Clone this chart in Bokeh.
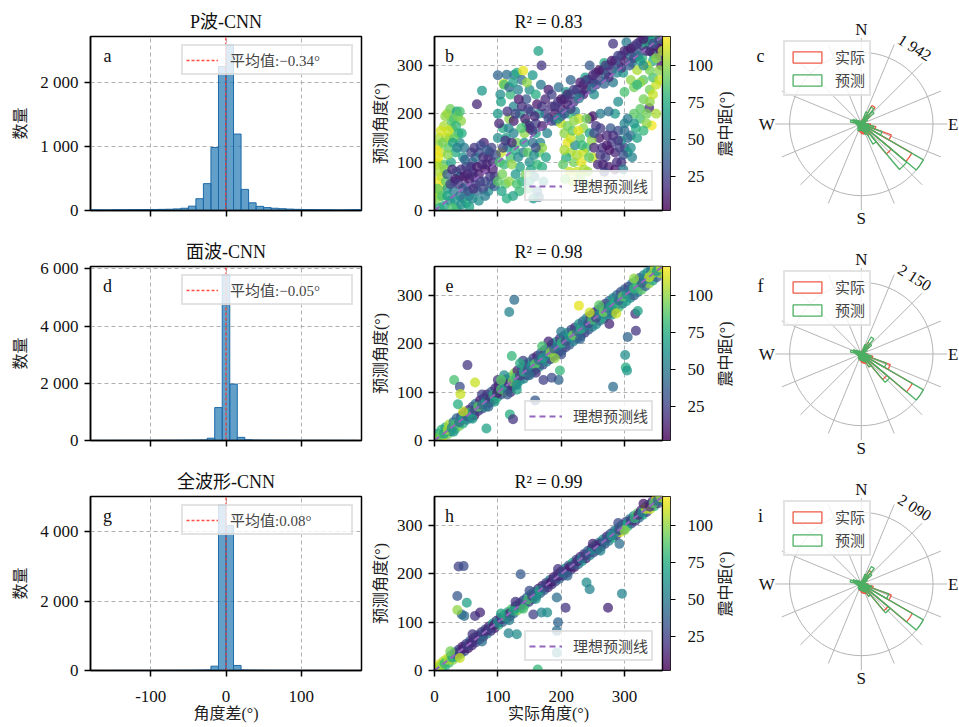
import numpy as np
from bokeh.plotting import figure
from bokeh.layouts import column, row
from bokeh.models import (Range1d, FixedTicker, Label, ColorBar, LinearColorMapper,
                          ColumnDataSource, Legend, LegendItem)
from bokeh.palettes import Viridis256
from bokeh.embed import file_html
from bokeh.resources import INLINE

FONT = "Liberation Serif, Noto Sans CJK SC"

# ---------------- data ----------------
hist_titles = ["P波-CNN", "面波-CNN", "全波形-CNN"]
hist_letters = ["a", "d", "g"]
mean_labels = ["平均值:−0.34°", "平均值:−0.05°", "平均值:0.08°"]
mean_values = [-0.34, -0.05, 0.08]
hist_a_left = list(range(-180, 180, 10))
hist_a_counts = [12, 10, 10, 12, 12, 14, 15, 15, 16, 18, 20, 25, 35, 68, 184, 420, 985, 2250,
                 2590, 1195, 330, 120, 65, 45, 35, 28, 22, 18, 15, 14, 12, 12, 10, 10, 12, 14]
hist_d_left = list(range(-175, 175, 10))
hist_d_counts = [3, 3, 4, 4, 5, 5, 6, 6, 7, 8, 8, 10, 12, 15, 20, 80, 1150, 5790, 1970, 110,
                 25, 15, 12, 10, 8, 8, 7, 6, 6, 5, 5, 4, 4, 3, 3]
hist_g_left = list(range(-180, 180, 10))
hist_g_counts = [3, 2, 2, 3, 3, 3, 4, 4, 4, 5, 5, 6, 6, 8, 10, 15, 125, 4770, 4170, 145,
                 15, 10, 8, 6, 6, 5, 5, 4, 4, 4, 3, 3, 3, 3, 2, 3]
hist_ymax = [2720, 6080, 5010]
hist_yticks = [[0, 1000, 2000], [0, 2000, 4000, 6000], [0, 2000, 4000]]
hist_xticks = [-100, 0, 100]
thousand_labels = {0: "0", 1000: "1 000", 2000: "2 000", 4000: "4 000", 6000: "6 000"}
hist_x_labels = {-100: "-100", 0: "0", 100: "100"}

scatter_titles = ["R² = 0.83", "R² = 0.98", "R² = 0.99"]
scatter_letters = ["b", "e", "h"]
scatter_ticks = [0, 100, 200, 300]
ideal_line = [0, 360]
dist_ticks = [25, 50, 75, 100]

# (actual angle, predicted angle, epicentral distance)
b_points = [
    (3, 40, 110), (5, 60, 115), (8, 80, 105), (4, 100, 112), (10, 120, 108), (6, 135, 100), (12, 50, 118),
    (2, 20, 95), (14, 95, 90), (9, 30, 100), (20, 200, 105), (25, 210, 95), (30, 190, 85), (35, 205, 70),
    (28, 170, 100), (18, 150, 110), (38, 160, 80), (22, 130, 90), (33, 120, 75), (40, 140, 60), (26, 100, 70),
    (45, 110, 65), (15, 175, 105), (42, 185, 100), (15, 10, 70), (25, 20, 60), (35, 5, 80), (45, 25, 55),
    (20, 45, 65), (30, 40, 50), (50, 15, 75), (12, 30, 85), (30, 60, 20), (40, 70, 15), (50, 50, 25),
    (55, 65, 10), (60, 80, 18), (65, 55, 22), (70, 75, 12), (75, 95, 20), (80, 60, 28), (85, 110, 15),
    (90, 130, 25), (70, 120, 30), (60, 100, 35), (50, 90, 30), (45, 45, 40), (80, 85, 10), (88, 70, 22),
    (92, 100, 18), (78, 140, 14), (65, 110, 45), (55, 30, 55), (68, 40, 45), (35, 80, 50), (85, 40, 60),
    (95, 50, 40), (75, 248, 65), (67, 220, 15), (4, 95, 105), (114, 281, 45), (126, 281, 50), (109, 262, 110),
    (100, 280, 40), (130, 285, 75), (140, 289, 115), (150, 250, 60), (120, 240, 80), (105, 225, 70),
    (125, 215, 55), (135, 200, 65), (145, 230, 35), (164, 330, 70), (169, 300, 20), (100, 150, 60),
    (108, 170, 75), (115, 130, 65), (120, 110, 85), (125, 160, 55), (130, 140, 95), (135, 90, 70),
    (140, 120, 50), (145, 180, 80), (150, 100, 60), (155, 140, 45), (160, 160, 70), (165, 120, 90),
    (110, 95, 80), (118, 190, 100), (128, 75, 65), (138, 60, 75), (148, 45, 85), (158, 70, 55), (162, 40, 50),
    (105, 120, 110), (112, 55, 90), (170, 90, 75), (152, 205, 40), (142, 160, 100), (165, 28, 40),
    (102, 180, 15), (115, 205, 20), (125, 185, 12), (133, 230, 10), (108, 130, 25), (150, 175, 18),
    (150, 170, 15), (160, 180, 25), (170, 175, 12), (175, 200, 20), (180, 190, 30), (185, 215, 18),
    (190, 200, 10), (195, 225, 22), (200, 210, 15), (205, 230, 28), (210, 220, 12), (215, 240, 35),
    (220, 225, 20), (225, 250, 15), (230, 240, 25), (235, 260, 18), (240, 250, 10), (245, 270, 30),
    (250, 265, 20), (255, 285, 15), (260, 270, 25), (265, 290, 12), (270, 280, 40), (275, 300, 18),
    (280, 290, 22), (285, 310, 15), (290, 300, 35), (295, 320, 20), (300, 310, 12), (305, 330, 25),
    (310, 320, 45), (315, 340, 18), (320, 330, 30), (325, 350, 15), (330, 340, 20), (335, 355, 28),
    (340, 345, 12), (345, 325, 50), (350, 340, 20), (355, 320, 15), (358, 300, 10), (165, 200, 60),
    (178, 160, 55), (192, 185, 50), (208, 245, 65), (222, 205, 55), (238, 275, 70), (252, 240, 60),
    (268, 305, 75), (282, 265, 50), (298, 285, 65), (312, 305, 55), (328, 315, 80), (342, 358, 60),
    (196, 255, 45), (215, 270, 40), (245, 300, 35), (310, 270, 100), (320, 290, 105), (330, 270, 90),
    (340, 250, 95), (350, 260, 110), (355, 290, 100), (345, 310, 75), (335, 300, 110), (300, 245, 85),
    (360, 350, 15), (352, 355, 90), (340, 330, 5), (355, 335, 8), (343, 176, 118), (339, 212, 15),
    (282, 345, 20), (303, 348, 50), (334, 345, 75), (344, 352, 70), (200, 180, 110), (205, 160, 100),
    (210, 140, 115), (215, 120, 105), (220, 100, 95), (225, 80, 110), (230, 150, 90), (235, 170, 100),
    (240, 130, 85), (208, 110, 75), (218, 60, 105), (228, 190, 110), (212, 200, 80), (232, 100, 115),
    (238, 55, 95), (245, 160, 70), (203, 95, 90), (222, 135, 60), (242, 80, 100), (250, 110, 110),
    (245, 190, 15), (255, 175, 20), (260, 150, 10), (265, 130, 18), (270, 110, 25), (275, 90, 12),
    (280, 140, 22), (285, 120, 15), (290, 165, 30), (295, 100, 20), (258, 95, 15), (268, 80, 28),
    (278, 170, 35), (285, 85, 10), (300, 130, 25), (305, 150, 40), (250, 195, 8), (295, 145, 60),
    (300, 180, 55), (305, 120, 70), (285, 200, 65), (310, 155, 45), (262, 200, 50), (275, 205, 45),
    (290, 225, 60), (318, 170, 75), (325, 190, 85), (315, 200, 90), (330, 230, 95), (335, 180, 100),
    (6, 110, 116), (11, 70, 108), (7, 150, 104), (13, 140, 95), (3, 125, 118), (16, 85, 100), (18, 60, 90),
    (21, 115, 98), (24, 150, 102), (27, 185, 88), (31, 150, 92), (34, 175, 80), (37, 195, 96), (40, 205, 85),
    (29, 140, 70), (36, 130, 55), (43, 160, 75), (47, 130, 50), (22, 165, 110), (17, 195, 100), (10, 165, 112),
    (20, 75, 35), (25, 55, 25), (28, 85, 15), (33, 65, 12), (38, 55, 22), (42, 85, 18), (47, 70, 10),
    (52, 75, 14), (57, 90, 20), (62, 70, 16), (67, 90, 12), (72, 60, 25), (77, 110, 18), (82, 95, 14),
    (87, 120, 20), (92, 85, 12), (97, 115, 30), (95, 70, 22), (58, 120, 25), (48, 105, 38), (63, 130, 20),
    (73, 135, 28), (83, 125, 35), (53, 40, 30), (62, 45, 18), (77, 45, 25), (90, 55, 30), (40, 30, 45),
    (8, 5, 75), (20, 30, 70), (32, 22, 65), (42, 12, 60), (55, 8, 70), (60, 25, 55), (70, 20, 60),
    (80, 30, 50), (28, 5, 85), (5, 45, 90), (100, 200, 65), (104, 240, 60), (110, 260, 85), (118, 255, 40),
    (124, 265, 70), (132, 250, 55), (138, 270, 45), (146, 265, 100), (155, 280, 65), (160, 240, 75),
    (168, 260, 50), (103, 100, 85), (107, 75, 95), (113, 150, 70), (117, 170, 55), (122, 95, 100),
    (127, 125, 75), (132, 110, 60), (137, 170, 85), (142, 140, 65), (147, 120, 90), (152, 85, 70),
    (157, 115, 60), (162, 95, 80), (167, 140, 55), (172, 60, 65), (176, 110, 70), (144, 75, 95),
    (134, 40, 80), (124, 30, 70), (114, 25, 75), (156, 25, 65), (118, 60, 100), (130, 55, 85), (150, 60, 70),
    (170, 130, 100), (100, 60, 90), (106, 40, 70), (112, 145, 20), (122, 140, 15), (128, 200, 25),
    (138, 215, 18), (143, 190, 12), (148, 210, 22), (158, 195, 15), (162, 220, 10), (170, 215, 20),
    (175, 230, 15), (180, 250, 12), (185, 240, 25), (160, 130, 30), (155, 165, 20), (190, 215, 20),
    (200, 230, 10), (210, 240, 15), (220, 250, 25), (230, 265, 12), (240, 270, 20), (250, 280, 15),
    (260, 290, 10), (270, 300, 22), (280, 310, 12), (290, 320, 25), (300, 330, 15), (310, 335, 10),
    (320, 345, 20), (330, 355, 12), (200, 195, 30), (215, 210, 22), (235, 240, 14), (255, 260, 28),
    (275, 275, 16), (295, 295, 20), (315, 315, 24), (335, 330, 18), (185, 185, 25), (195, 190, 60),
    (205, 200, 35), (228, 232, 50), (248, 252, 45), (268, 262, 40), (288, 285, 55), (308, 300, 35),
    (322, 320, 45), (345, 345, 30), (355, 355, 25), (205, 125, 105), (210, 175, 95), (215, 150, 110),
    (220, 185, 100), (225, 115, 105), (230, 70, 100), (235, 120, 110), (240, 190, 95), (213, 80, 110),
    (218, 165, 90), (227, 165, 115), (233, 135, 80), (244, 110, 90), (248, 145, 100), (206, 65, 95),
    (236, 85, 105), (252, 130, 15), (262, 115, 20), (272, 135, 12), (282, 155, 18), (292, 130, 25),
    (262, 170, 22), (272, 155, 15), (252, 160, 30), (288, 100, 18), (298, 115, 30), (276, 125, 10),
    (266, 95, 14), (290, 145, 20), (300, 165, 45), (310, 130, 60), (320, 150, 70), (330, 165, 80),
    (315, 180, 65), (325, 210, 90), (335, 200, 95), (340, 225, 100), (345, 240, 110), (350, 200, 105),
    (305, 190, 50), (312, 110, 55), (298, 85, 50), (315, 255, 95), (325, 265, 100), (345, 275, 85),
    (355, 270, 110), (350, 315, 100), (340, 290, 95), (325, 310, 70), (360, 330, 105), (330, 300, 60),
    (320, 260, 80),
]

e_points = [
    (2, 6, 105), (5, 14, 60), (8, 1, 115), (11, 22, 80), (14, 9, 110), (17, 27, 70), (21, 13, 95),
    (23, 33, 105), (26, 19, 60), (30, 38, 50), (33, 24, 85), (35, 46, 40), (39, 30, 95), (42, 50, 30),
    (45, 35, 75), (47, 58, 20), (51, 43, 55), (54, 63, 15), (57, 47, 35), (60, 70, 25), (63, 52, 10),
    (65, 76, 45), (69, 61, 20), (72, 83, 12), (75, 66, 30), (78, 88, 18), (81, 70, 65), (83, 95, 10),
    (87, 78, 25), (90, 101, 35), (93, 84, 15), (96, 108, 20), (99, 89, 80), (101, 114, 12), (105, 95, 30),
    (108, 120, 50), (111, 101, 95), (113, 126, 20), (117, 106, 60), (120, 131, 75), (123, 112, 25),
    (126, 139, 100), (129, 117, 40), (131, 145, 15), (135, 124, 70), (138, 150, 30), (141, 128, 55),
    (144, 157, 45), (147, 135, 20), (150, 162, 65), (153, 140, 35), (156, 170, 25), (159, 146, 50),
    (162, 175, 15), (165, 152, 60), (168, 181, 40), (171, 157, 30), (174, 187, 20), (177, 163, 55),
    (180, 192, 35), (183, 168, 25), (186, 199, 45), (189, 175, 15), (192, 204, 60), (195, 181, 30),
    (198, 211, 20), (201, 186, 50), (204, 216, 40), (207, 193, 25), (210, 223, 70), (213, 198, 35),
    (216, 229, 30), (219, 205, 55), (222, 234, 20), (225, 211, 45), (228, 241, 65), (231, 216, 30),
    (234, 246, 40), (237, 223, 25), (240, 253, 55), (243, 229, 35), (246, 258, 20), (249, 235, 50),
    (252, 265, 30), (255, 240, 60), (258, 270, 25), (261, 248, 45), (264, 277, 35), (267, 252, 70),
    (270, 283, 20), (273, 259, 50), (276, 289, 40), (279, 265, 30), (282, 295, 60), (285, 271, 25),
    (288, 301, 45), (291, 276, 85), (294, 307, 30), (297, 283, 55), (300, 313, 40), (303, 288, 70),
    (306, 318, 25), (309, 295, 60), (312, 325, 45), (315, 300, 35), (318, 331, 75), (321, 307, 50),
    (324, 336, 30), (327, 312, 90), (330, 342, 55), (333, 319, 40), (336, 348, 65), (339, 325, 100),
    (342, 353, 45), (345, 331, 70), (348, 357, 110), (351, 338, 35), (354, 359, 60), (357, 346, 105),
    (3, 3, 100), (9, 11, 90), (15, 14, 70), (21, 22, 105), (27, 26, 55), (33, 34, 85), (39, 38, 45),
    (45, 46, 70), (51, 50, 35), (57, 58, 80), (63, 62, 25), (69, 70, 90), (75, 74, 40), (81, 82, 70),
    (87, 86, 15), (93, 94, 75), (99, 98, 10), (105, 106, 85), (111, 110, 60), (117, 118, 18), (123, 122, 95),
    (129, 130, 80), (135, 134, 20), (141, 142, 75), (147, 146, 30), (153, 154, 60), (159, 158, 90),
    (165, 166, 40), (171, 170, 70), (177, 178, 55), (183, 182, 100), (189, 190, 35), (195, 194, 50),
    (201, 202, 80), (207, 206, 30), (213, 214, 65), (219, 218, 95), (225, 226, 40), (231, 230, 75),
    (237, 238, 55), (243, 242, 30), (249, 250, 85), (255, 254, 25), (261, 262, 60), (267, 266, 95),
    (273, 274, 50), (279, 278, 70), (285, 286, 75), (291, 290, 40), (297, 298, 90), (303, 302, 60),
    (309, 310, 45), (315, 314, 80), (321, 322, 85), (327, 326, 35), (333, 334, 55), (339, 338, 110),
    (345, 346, 100), (351, 350, 65), (357, 358, 110), (100, 125, 20), (120, 100, 15), (140, 165, 25),
    (160, 140, 20), (180, 205, 15), (200, 178, 30), (110, 135, 60), (130, 105, 70),
    (105, 125, 90), (95, 80, 70), (130, 115, 60), (150, 135, 45), (170, 195, 85), (190, 170, 100),
    (60, 45, 65), (45, 60, 110), (75, 95, 25), (200, 225, 50), (230, 210, 40), (260, 280, 90),
    (280, 260, 55), (315, 335, 100), (245, 265, 110), (135, 160, 75), (115, 95, 35), (85, 70, 40),
    (30, 18, 65), (126, 291, 45), (118, 266, 55), (228, 279, 115), (52, 156, 20), (31, 125, 85),
    (40, 111, 30), (41, 96, 110), (37, 75, 75), (82, 25, 70), (122, 175, 80), (119, 54, 75), (124, 44, 20),
    (159, 83, 35), (198, 145, 80), (196, 125, 40), (172, 125, 25), (185, 130, 30), (282, 111, 45),
    (301, 177, 60), (302, 151, 75), (304, 145, 65), (305, 214, 40), (318, 227, 20), (317, 262, 18),
    (321, 268, 70), (276, 241, 15), (287, 263, 110), (64, 120, 110),
]

h_points = [
    (2, 6, 110), (5, 1, 100), (8, 13, 115), (11, 5, 90), (14, 19, 105), (17, 10, 75), (20, 25, 110),
    (23, 16, 85), (26, 31, 60), (29, 22, 100), (32, 37, 45), (35, 28, 70), (38, 43, 25), (41, 34, 55),
    (44, 49, 15), (47, 40, 30), (50, 55, 20), (53, 46, 10), (56, 61, 35), (59, 52, 18), (62, 67, 12),
    (65, 58, 25), (68, 73, 40), (71, 64, 15), (74, 79, 20), (77, 70, 10), (80, 85, 30), (83, 76, 55),
    (86, 91, 15), (89, 82, 22), (92, 97, 70), (95, 88, 12), (98, 103, 25), (101, 94, 80), (104, 109, 18),
    (107, 100, 35), (110, 115, 90), (113, 106, 60), (116, 121, 75), (119, 112, 20), (122, 127, 85),
    (125, 118, 45), (128, 133, 15), (131, 124, 95), (134, 139, 30), (137, 130, 65), (140, 145, 20),
    (143, 136, 80), (146, 151, 40), (149, 142, 25), (152, 157, 70), (155, 148, 15), (158, 163, 55),
    (161, 154, 30), (164, 169, 20), (167, 160, 45), (170, 175, 12), (173, 166, 35), (176, 181, 25),
    (179, 172, 15), (182, 187, 50), (185, 178, 20), (188, 193, 10), (191, 184, 30), (194, 199, 18),
    (197, 190, 40), (200, 205, 12), (203, 196, 25), (206, 211, 60), (209, 202, 15), (212, 217, 35),
    (215, 208, 20), (218, 223, 75), (221, 214, 12), (224, 229, 30), (227, 220, 45), (230, 235, 18),
    (233, 226, 65), (236, 241, 25), (239, 232, 15), (242, 247, 40), (245, 238, 55), (248, 253, 20),
    (251, 244, 30), (254, 259, 70), (257, 250, 15), (260, 265, 45), (263, 256, 25), (266, 271, 60),
    (269, 262, 35), (272, 277, 20), (275, 268, 50), (278, 283, 30), (281, 274, 75), (284, 289, 40),
    (287, 280, 20), (290, 295, 65), (293, 286, 110), (296, 301, 35), (299, 292, 50), (302, 307, 25),
    (305, 298, 80), (308, 313, 45), (311, 304, 30), (314, 319, 60), (317, 310, 20), (320, 325, 90),
    (323, 316, 40), (326, 331, 15), (329, 322, 70), (332, 337, 100), (335, 328, 25), (338, 343, 55),
    (341, 334, 110), (344, 349, 15), (347, 340, 80), (350, 355, 115), (353, 346, 20), (356, 358, 105),
    (358, 352, 60), (4, 4, 110), (10, 10, 100), (16, 15, 80), (22, 22, 105), (28, 27, 70), (34, 34, 30),
    (40, 39, 20), (46, 46, 12), (52, 51, 25), (58, 58, 15), (64, 63, 20), (70, 70, 10), (76, 75, 30),
    (82, 82, 15), (88, 87, 25), (94, 94, 12), (100, 99, 60), (106, 106, 20), (112, 111, 80), (118, 118, 15),
    (124, 123, 75), (130, 130, 70), (136, 135, 20), (142, 142, 40), (148, 147, 85), (154, 154, 25),
    (160, 159, 50), (166, 166, 70), (172, 171, 30), (178, 178, 20), (184, 183, 10), (190, 190, 25),
    (196, 195, 15), (202, 202, 45), (208, 207, 20), (214, 214, 12), (220, 219, 30), (226, 226, 15),
    (232, 231, 50), (238, 238, 20), (244, 243, 35), (250, 250, 60), (256, 255, 25), (262, 262, 15),
    (268, 267, 45), (274, 274, 30), (280, 279, 65), (286, 286, 55), (292, 291, 25), (298, 298, 70),
    (304, 303, 70), (310, 310, 20), (316, 315, 80), (322, 322, 15), (328, 327, 60), (334, 334, 110),
    (340, 339, 20), (346, 346, 90), (352, 351, 40), (358, 358, 105), (105, 118, 70), (118, 104, 50),
    (140, 128, 85), (128, 142, 20), (160, 148, 65), (150, 165, 30), (195, 210, 20), (210, 196, 40),
    (250, 262, 15), (262, 248, 55), (300, 290, 100), (290, 305, 30), (25, 40, 95), (40, 26, 110),
    (60, 75, 20), (75, 60, 45), (330, 345, 10), (38, 215, 25), (46, 216, 30), (36, 154, 35), (51, 140, 70),
    (43, 116, 40), (47, 113, 45), (36, 125, 100), (64, 113, 20), (72, 120, 15), (136, 199, 35),
    (156, 116, 25), (169, 120, 55), (178, 120, 60), (193, 151, 45), (195, 100, 40), (193, 82, 45),
    (207, 130, 20), (240, 182, 60), (245, 168, 55), (274, 130, 15), (296, 159, 55), (163, 2, 80),
    (193, 37, 60), (117, 77, 55), (130, 75, 60), (292, 262, 45),
]

rose_letters = ["c", "f", "i"]
rose_bins = list(range(0, 360, 10))
spoke_bearings = [0, 22.5, 45, 67.5, 90, 112.5, 135, 157.5, 180, 202.5, 225, 247.5, 270, 292.5, 315, 337.5]
compass_labels = ["N", "E", "S", "W"]
compass_bearings = [0, 90, 180, 270]
rose_max = [1942, 2150, 2090]
rose_max_labels = ["1 942", "2 150", "2 090"]
c_actual = [80, 120, 200, 580, 300, 150, 100, 80, 100, 250, 400, 864, 1580, 1057, 350, 250, 280, 260,
            220, 200, 150, 120, 100, 90, 80, 90, 100, 120, 180, 150, 120, 100, 80, 70, 60, 70]
c_pred = [60, 100, 350, 530, 450, 200, 120, 90, 80, 200, 350, 600, 1942, 1608, 630, 300, 200, 150,
          180, 170, 200, 150, 120, 100, 100, 110, 120, 150, 300, 250, 180, 120, 100, 80, 70, 60]
f_actual = [70, 100, 200, 400, 300, 150, 100, 80, 100, 200, 350, 925, 1770, 1000, 450, 300, 280, 250,
            200, 180, 150, 120, 100, 90, 80, 90, 110, 130, 200, 160, 120, 100, 80, 70, 60, 70]
f_pred = [60, 90, 300, 590, 400, 200, 120, 90, 90, 180, 300, 800, 2150, 1110, 450, 250, 220, 180,
          190, 160, 170, 140, 120, 100, 100, 110, 130, 170, 330, 260, 170, 120, 100, 80, 70, 60]
i_actual = [70, 100, 200, 450, 300, 150, 100, 80, 100, 200, 350, 930, 1720, 1020, 400, 300, 280, 250,
            200, 180, 150, 120, 100, 90, 80, 90, 110, 130, 200, 160, 120, 100, 80, 70, 60, 70]
i_pred = [60, 90, 300, 590, 400, 200, 120, 90, 90, 180, 300, 850, 2090, 1100, 420, 250, 220, 180,
          190, 160, 170, 140, 120, 100, 100, 110, 130, 170, 330, 260, 170, 120, 100, 80, 70, 60]

ROW_H = [230, 230, 267]
FRAME_H = 174
RED = "#ee5a45"
GREEN = "#4caf63"
GRID_GREY = "#b5b5b5"
HIST_W, SCAT_W, ROSE_W = 366, 350, 243
SCAT_LEFT = 68


def style_axes(p, xticks, yticks, yover, xover, show_x, xlabel, ylabel):
    p.xaxis.ticker = FixedTicker(ticks=xticks)
    p.yaxis.ticker = FixedTicker(ticks=yticks)
    p.xgrid.ticker = FixedTicker(ticks=xticks)
    p.ygrid.ticker = FixedTicker(ticks=yticks)
    if yover:
        p.yaxis.major_label_overrides = yover
    if xover:
        p.xaxis.major_label_overrides = xover
    for ax in (p.xaxis[0], p.yaxis[0]):
        ax.major_tick_out = 6
        ax.major_tick_in = 0
        ax.minor_tick_line_color = None
        ax.major_tick_line_color = "black"
        ax.major_tick_line_width = 1.5
        ax.axis_line_color = "black"
        ax.axis_line_width = 1.5
        ax.major_label_text_font = FONT
        ax.major_label_text_font_size = "17px"
        ax.major_label_text_color = "#111111"
        ax.axis_label_text_font = FONT
        ax.axis_label_text_font_size = "16px"
        ax.axis_label_text_font_style = "normal"
        ax.axis_label_text_color = "#222222"
    p.yaxis.major_label_standoff = 6
    if show_x:
        p.xaxis.axis_label = xlabel
        p.xaxis.major_label_standoff = 14
        p.xaxis.axis_label_standoff = 0
    else:
        p.xaxis.major_label_text_font_size = "1px"
        p.xaxis.major_label_text_color = None
        p.xaxis.major_label_standoff = 0
    p.yaxis.axis_label = ylabel
    p.grid.grid_line_dash = "4 3"
    p.grid.grid_line_color = "#b0b0b0"
    p.grid.grid_line_width = 1
    p.outline_line_color = "black"
    p.outline_line_width = 1.5


def set_title(p, text):
    p.title.text = text
    p.title.align = "center"
    p.title.text_font = FONT
    p.title.text_font_size = "18px"
    p.title.text_font_style = "normal"
    p.title.text_color = "#111111"


def hist_panel(i, left, counts):
    H = ROW_H[i]
    bottom = (i == 2)
    ymax = hist_ymax[i]
    p = figure(width=HIST_W, height=H, x_range=Range1d(-180, 180), y_range=Range1d(0, ymax),
               output_backend="svg", toolbar_location=None,
               min_border_left=90, min_border_right=HIST_W - 90 - 271, min_border_top=36,
               min_border_bottom=H - 36 - FRAME_H)
    set_title(p, hist_titles[i])
    right = [l + 10 for l in left]
    p.quad(left=left, right=right, bottom=0, top=counts, fill_color="#1f77b4", fill_alpha=0.7,
           line_color="#1f6aa8", line_width=1)
    r = p.ray(x=[mean_values[i]], y=[0], length=0, angle=np.pi / 2, line_color="#ff3b2f",
              line_dash="3 2", line_width=1.3, line_alpha=0.9)
    style_axes(p, hist_xticks, hist_yticks[i], thousand_labels, hist_x_labels, bottom, "角度差(°)", "数量")
    p.yaxis.axis_label_standoff = 8
    leg = Legend(items=[LegendItem(label=mean_labels[i], renderers=[r])], location="top_right",
                 margin=8, padding=3, spacing=0, glyph_width=32, glyph_height=14, label_standoff=12,
                 label_width=118, label_height=14, label_text_font=FONT, label_text_font_size="15px",
                 border_line_color="#c8c8c8", border_line_width=2, background_fill_alpha=0.8)
    p.add_layout(leg)
    p.add_layout(Label(x=-180 + 17 / 271 * 360, y=ymax * (1 - 19 / FRAME_H), text=hist_letters[i],
                       text_font=FONT, text_font_size="18px", text_align="center",
                       text_baseline="middle", text_color="#111111"))
    return p


mapper = LinearColorMapper(palette=Viridis256, low=2, high=120)


def scatter_panel(i, pts):
    H = ROW_H[i]
    bottom = (i == 2)
    p = figure(width=SCAT_W, height=H, x_range=Range1d(0, 360), y_range=Range1d(0, 360),
               output_backend="svg", toolbar_location=None,
               min_border_left=SCAT_LEFT, min_border_right=SCAT_W - SCAT_LEFT - 229, min_border_top=36,
               min_border_bottom=H - 36 - FRAME_H)
    set_title(p, scatter_titles[i])
    src = ColumnDataSource(dict(x=[q[0] for q in pts], y=[q[1] for q in pts], c=[q[2] for q in pts]))
    p.scatter("x", "y", source=src, size=10, fill_color={"field": "c", "transform": mapper},
              line_color=None, fill_alpha=0.75)
    lr = p.line(ideal_line, ideal_line, line_color="#9467bd", line_dash="6 4", line_width=2)
    style_axes(p, scatter_ticks, scatter_ticks, None, None, bottom, "实际角度(°)", "预测角度(°)")
    leg = Legend(items=[LegendItem(label="理想预测线", renderers=[lr])], location="bottom_right",
                 margin=9, padding=3, spacing=0, glyph_width=33, glyph_height=14, label_standoff=11,
                 label_height=14, label_text_font=FONT, label_text_font_size="15px",
                 border_line_color="#c8c8c8", border_line_width=2, background_fill_alpha=0.8)
    p.add_layout(leg)
    cb = ColorBar(color_mapper=mapper, ticker=FixedTicker(ticks=dist_ticks), width=8, margin=2,
                  padding=0, scale_alpha=0.8, major_tick_in=0, major_tick_out=5,
                  major_tick_line_color="black", label_standoff=12, major_label_text_font=FONT,
                  major_label_text_font_size="17px", major_label_text_color="#111111",
                  bar_line_color="black", bar_line_width=1, border_line_color=None,
                  background_fill_color=None)
    p.add_layout(cb, "right")
    p.add_layout(Label(x=15 / 229 * 360, y=360 * (1 - 19 / FRAME_H), text=scatter_letters[i],
                       text_font=FONT, text_font_size="18px", text_align="center",
                       text_baseline="middle", text_color="#111111"))
    return p


def rose_panel(i, actual, pred):
    H = ROW_H[i]
    W = ROSE_W
    cx, cy = 144.8, 123.5
    mx = rose_max[i]
    s = mx / 71.7
    p = figure(width=W, height=H, x_range=Range1d(-cx * s, (W - cx) * s),
               y_range=Range1d(-(H - cy) * s, cy * s), output_backend="svg",
               toolbar_location=None, x_axis_location=None, y_axis_location=None,
               min_border=0, frame_align=False)
    p.outline_line_color = None
    p.grid.visible = False
    sb = np.array(spoke_bearings)
    p.ray(x=0, y=0, length=1.2 * mx, angle=np.radians(90 - sb), line_color=GRID_GREY, line_width=1)
    p.arc(x=0, y=0, radius=mx, start_angle=0, end_angle=2 * np.pi, line_color=GRID_GREY, line_width=1)
    b = np.array(rose_bins, dtype=float)
    st = np.radians(90 - (b + 10))
    en = np.radians(90 - b)
    ra = p.wedge(x=0, y=0, radius=actual, start_angle=st, end_angle=en, fill_color=None,
                 line_color=RED, line_width=1.3)
    rp = p.wedge(x=0, y=0, radius=pred, start_angle=st, end_angle=en, fill_color=None,
                 line_color=GREEN, line_width=1.3)
    R = 1.32 * mx
    for lab, bb in zip(compass_labels, compass_bearings):
        if lab == "E":
            p.add_layout(Label(x=(W - 1 - cx) * s, y=0, text=lab, text_font=FONT, text_font_size="17px",
                               text_align="right", text_baseline="middle", text_color="#111111"))
        else:
            p.add_layout(Label(x=R * np.sin(np.radians(bb)), y=R * np.cos(np.radians(bb)), text=lab,
                               text_font=FONT, text_font_size="17px", text_align="center",
                               text_baseline="middle", text_color="#111111"))
    R2 = 1.3 * mx
    p.add_layout(Label(x=R2 * np.sin(np.radians(35)), y=R2 * np.cos(np.radians(35)),
                       text=rose_max_labels[i], angle=-0.56, text_font=FONT, text_font_size="16px",
                       text_align="center", text_baseline="middle", text_color="#111111"))
    p.add_layout(Label(x=(44 - cx) * s, y=(cy - 55) * s, text=rose_letters[i], text_font=FONT,
                       text_font_size="18px", text_align="center", text_baseline="middle",
                       text_color="#111111"))
    # colour-bar title of the neighbouring scatter panel
    p.add_layout(Label(x=(9 - cx) * s, y=0, text="震中距(°)", angle=np.pi / 2, text_font=FONT,
                       text_font_size="16px", text_align="center", text_baseline="middle",
                       text_color="#222222"))
    leg = Legend(items=[LegendItem(label="实际", renderers=[ra], index=0),
                        LegendItem(label="预测", renderers=[rp], index=0)],
                 location=(67, H - 96), padding=4, spacing=2, glyph_width=36, glyph_height=14,
                 label_standoff=10, label_height=14, label_text_font=FONT, label_text_font_size="15px",
                 border_line_color="#c8c8c8", border_line_width=2, background_fill_alpha=0.8)
    p.add_layout(leg)
    return p


rows = []
hist_data = [(hist_a_left, hist_a_counts), (hist_d_left, hist_d_counts), (hist_g_left, hist_g_counts)]
scatter_data = [b_points, e_points, h_points]
rose_data = [(c_actual, c_pred), (f_actual, f_pred), (i_actual, i_pred)]
for i in range(3):
    rows.append(row(hist_panel(i, *hist_data[i]), scatter_panel(i, scatter_data[i]),
                    rose_panel(i, *rose_data[i])))
layout = column(*rows)

open("out.html", "w").write(file_html(layout, INLINE))
